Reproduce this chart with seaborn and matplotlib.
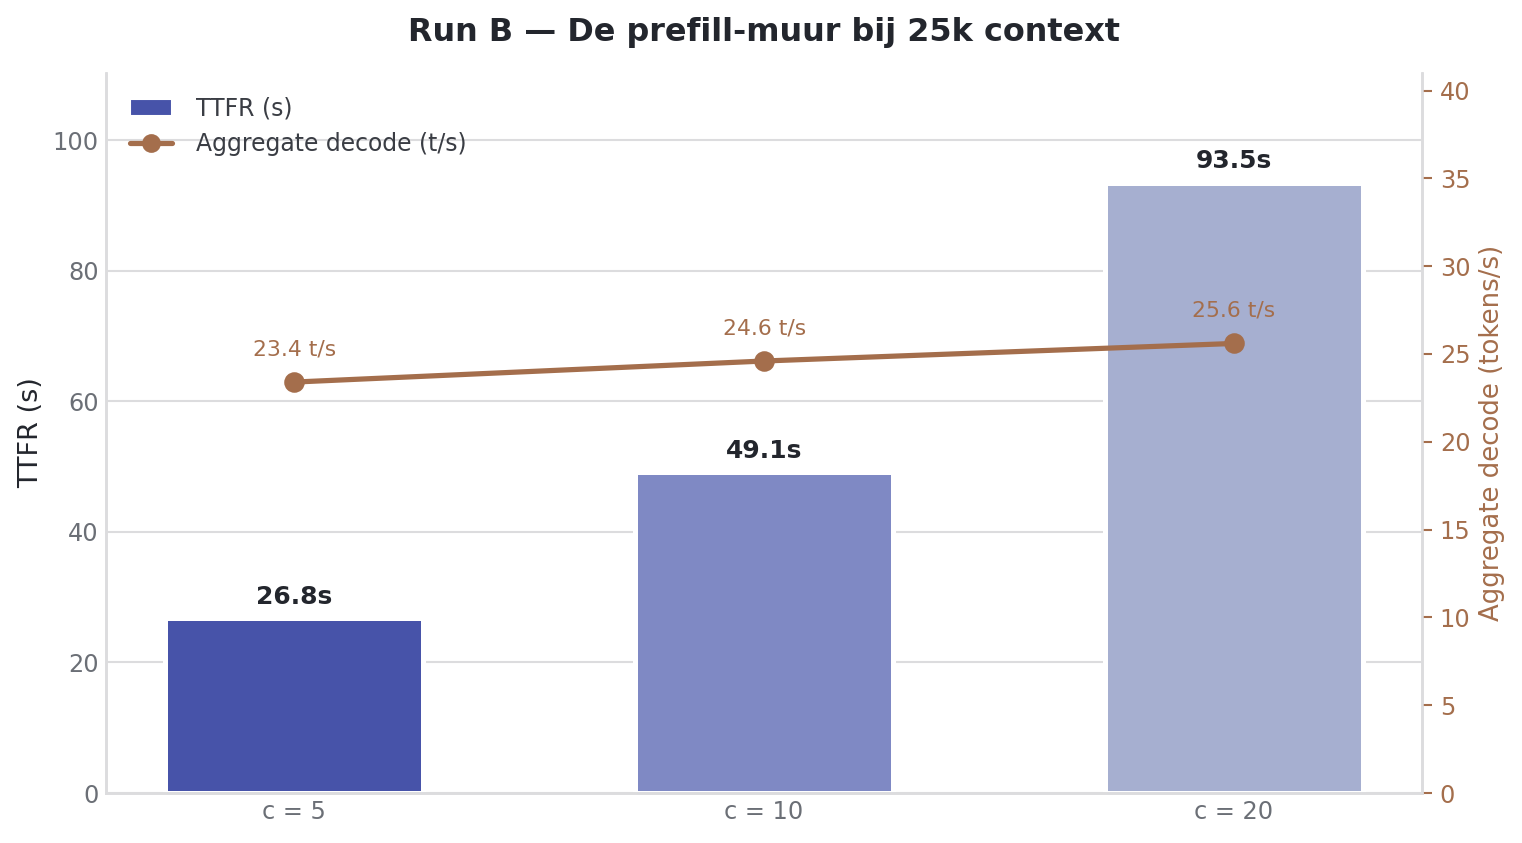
import numpy as np
import pandas as pd
import matplotlib
matplotlib.use('Agg')
import matplotlib.pyplot as plt
import seaborn as sns
from matplotlib.lines import Line2D
from matplotlib.patches import Patch

# --- data ---
categories = ['c = 5', 'c = 10', 'c = 20']
ttfr_s = [26.8, 49.1, 93.5]
decode_tps = [23.4, 24.6, 25.6]

bar_colors = ['#4753A9', '#7F89C4', '#A6AFD0']
line_color = '#A46E4C'
text_dark = '#23262D'
tick_gray = '#6B6F76'
grid_gray = '#DCDCDE'

sns.set_theme(style='whitegrid')
plt.rcParams['font.family'] = ['DejaVu Sans']

df = pd.DataFrame({'conc': categories, 'ttfr': ttfr_s, 'decode': decode_tps})

fig, ax = plt.subplots(figsize=(10.147, 5.62), dpi=150)
ax2 = ax.twinx()

sns.barplot(data=df, x='conc', y='ttfr', hue='conc', palette=bar_colors,
            width=0.55, edgecolor='white', linewidth=2.4, legend=False,
            saturation=1, ax=ax)
sns.pointplot(data=df, x='conc', y='decode', color=line_color, markers='o',
              markersize=8, linewidth=2.5, ax=ax2)

# value labels
for i, v in enumerate(ttfr_s):
    ax.annotate(f'{v}s', (i, v), xytext=(0, 4.5), textcoords='offset points',
                ha='center', va='bottom', fontsize=12, fontweight='bold', color=text_dark)
for i, v in enumerate(decode_tps):
    ax2.annotate(f'{v} t/s', (i, v), xytext=(0, 11), textcoords='offset points',
                 ha='center', va='bottom', fontsize=10.5, color=line_color)

ax.set_xlim(-0.4, 2.4)
ax.set_ylim(0, 110.3)
ax2.set_ylim(0, 41)
ax2.set_yticks(np.arange(0, 41, 5))

ax.set_xlabel('')
ax.set_ylabel('TTFR (s)', fontsize=13, color=text_dark)
ax2.set_ylabel('Aggregate decode (tokens/s)', fontsize=12.5, color=line_color)

ax.grid(axis='y', color=grid_gray, linewidth=1.0)
ax.grid(axis='x', visible=False)
ax2.grid(False)
ax.set_axisbelow(True)

ax.tick_params(axis='x', colors=tick_gray, labelsize=11.5, length=0)
ax.tick_params(axis='y', colors=tick_gray, labelsize=11.5, length=0)
ax2.tick_params(axis='y', colors=line_color, labelsize=11.5, length=5, width=1, direction='out')

for a in (ax, ax2):
    a.spines['top'].set_visible(False)
    for s in ['left', 'right', 'bottom']:
        a.spines[s].set_color(grid_gray)
        a.spines[s].set_linewidth(1.2)

handles = [Patch(facecolor=bar_colors[0], edgecolor='white', label='TTFR (s)'),
           Line2D([0], [0], color=line_color, lw=2.5, marker='o', markersize=8,
                  label='Aggregate decode (t/s)')]
leg = ax2.legend(handles=handles, loc='upper left', frameon=False, fontsize=11.3,
                 handlelength=1.8, handletextpad=1.0, borderaxespad=0.6)
for t in leg.get_texts():
    t.set_color('#3A3D44')

ax.set_title('Run B — De prefill-muur bij 25k context', fontsize=15.3,
             fontweight='bold', color=text_dark, pad=15.5)

fig.subplots_adjust(left=0.0697, right=0.9343, bottom=0.0593, top=0.9134)
fig.savefig('out.png', dpi=150)
